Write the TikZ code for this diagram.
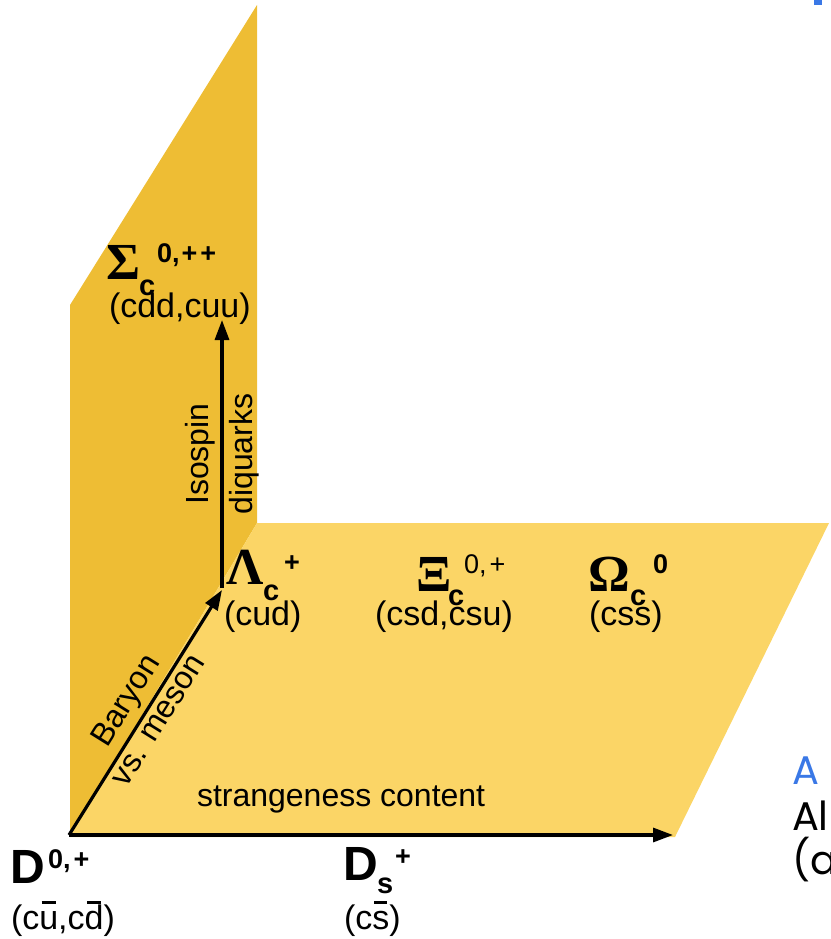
\documentclass[tikz,border=0pt]{standalone}
\usepackage{fontspec}
\setmainfont{Liberation Sans}
\newfontfamily\grk{Liberation Serif}
\newfontfamily\slidefont{Poppins}
\usetikzlibrary{arrows.meta}
\definecolor{darkplane}{RGB}{238,189,52}
\definecolor{lightplane}{RGB}{251,213,102}
\definecolor{slideblue}{RGB}{58,120,230}
\newcommand\qbar[1]{\setbox0\hbox{#1}\rlap{#1}\hbox to \wd0{\hss\raisebox{0.74em}{\rule{0.75\wd0}{0.07em}}\hss}}
\begin{document}
\begin{tikzpicture}[x=1pt,y=-1pt,
  every node/.style={inner sep=0pt, outer sep=0pt},
  greek/.style={font={\grk\fontsize{52}{52}\selectfont\bfseries}, anchor=base west},
  bigD/.style={font={\fontsize{48}{48}\selectfont\bfseries}, anchor=base west},
  sub/.style={font={\fontsize{29}{29}\selectfont\bfseries}, anchor=base west},
  sup/.style={font={\fontsize{27}{27}\selectfont\bfseries}, anchor=base west},
  suplight/.style={font={\fontsize{27}{27}\selectfont}, anchor=base west},
  quark/.style={font={\fontsize{34}{36}\selectfont}, anchor=base west},
  axislabel/.style={font={\fontsize{32}{36}\selectfont}},
  axis/.style={line width=3.2pt, -{Triangle[length=20pt,width=14pt]}},
  slide/.style={font={\slidefont\fontsize{40}{40}\selectfont}, anchor=base west}]
\useasboundingbox (0,0) rectangle (830,939);
% planes
\fill[darkplane] (70,836) -- (70,305) -- (257,5) -- (257,523) -- cycle;
\fill[lightplane] (70,836) -- (257,523) -- (829,523) -- (675,837) -- (70,837) -- cycle;
% axes
\coordinate (o) at (69,835);
\coordinate (lam) at (222,590);
\coordinate (sig) at (222,320);
\coordinate (xend) at (673,835);
\draw[axis] (o) -- node[sloped, above=7pt, axislabel] (baryon) {Baryon}
                   node[sloped, below=7pt, axislabel] (vsmeson) {vs. meson} (lam);
\draw[axis] (222,588) -- node[sloped, above=7pt, axislabel] (isospin) {Isospin}
                   node[sloped, below=7pt, axislabel] (diquarks) {diquarks} (sig);
\draw[axis] (o) -- (xend);
\node[axislabel, anchor=base west] (strange) at (197,806) {strangeness content};
% Sigma_c
\node[greek] (Sg) at (106,279) {Σ};
\node[sub] (Sgc) at (139,295) {c};
\node[sup] (Sgs) at (157,262) {0,\kern2pt+\kern3pt+};
\node[quark] (Sgq) at (109,317) {(cdd,cuu)};
% Lambda_c
\node[greek] (Lm) at (226,584) {Λ};
\node[sub] (Lmc) at (263,600) {c};
\node[sup] (Lms) at (284,571) {+};
\node[quark] (Lmq) at (224,625) {(cud)};
% Xi_c
\node[greek] (Xi) at (416,591) {Ξ};
\node[sub] (Xic) at (448,605) {c};
\node[suplight] (Xis) at (464,573) {0,\kern3pt+};
\node[quark] (Xiq) at (375,625) {(csd,csu)};
% Omega_c
\node[greek] (Om) at (588,591) {Ω};
\node[sub] (Omc) at (630,605) {c};
\node[sup] (Oms) at (653,573) {0};
\node[quark] (Omq) at (589,625) {(css)};
% D mesons
\node[bigD] (D0) at (10,883) {D};
\node[sup] (D0s) at (48,868) {0,\kern3pt+};
\node[quark] (D0q) at (11,929) {(c\qbar{u},c\qbar{d})};
\node[bigD] (Ds) at (343,880) {D};
\node[sub] (Dsc) at (377,893) {s};
\node[sup] (Dss) at (395,865) {+};
\node[quark] (Dsq) at (344,929) {(c\qbar{s})};
% slide remnants
\fill[slideblue] (814,0) rectangle (822,5);
\node[slide, text=slideblue] (sa) at (792,784) {A};
\node[slide] (sb) at (792,830) {Al};
\node[slide] (sc) at (792,874) {(al};
\end{tikzpicture}
\end{document}
